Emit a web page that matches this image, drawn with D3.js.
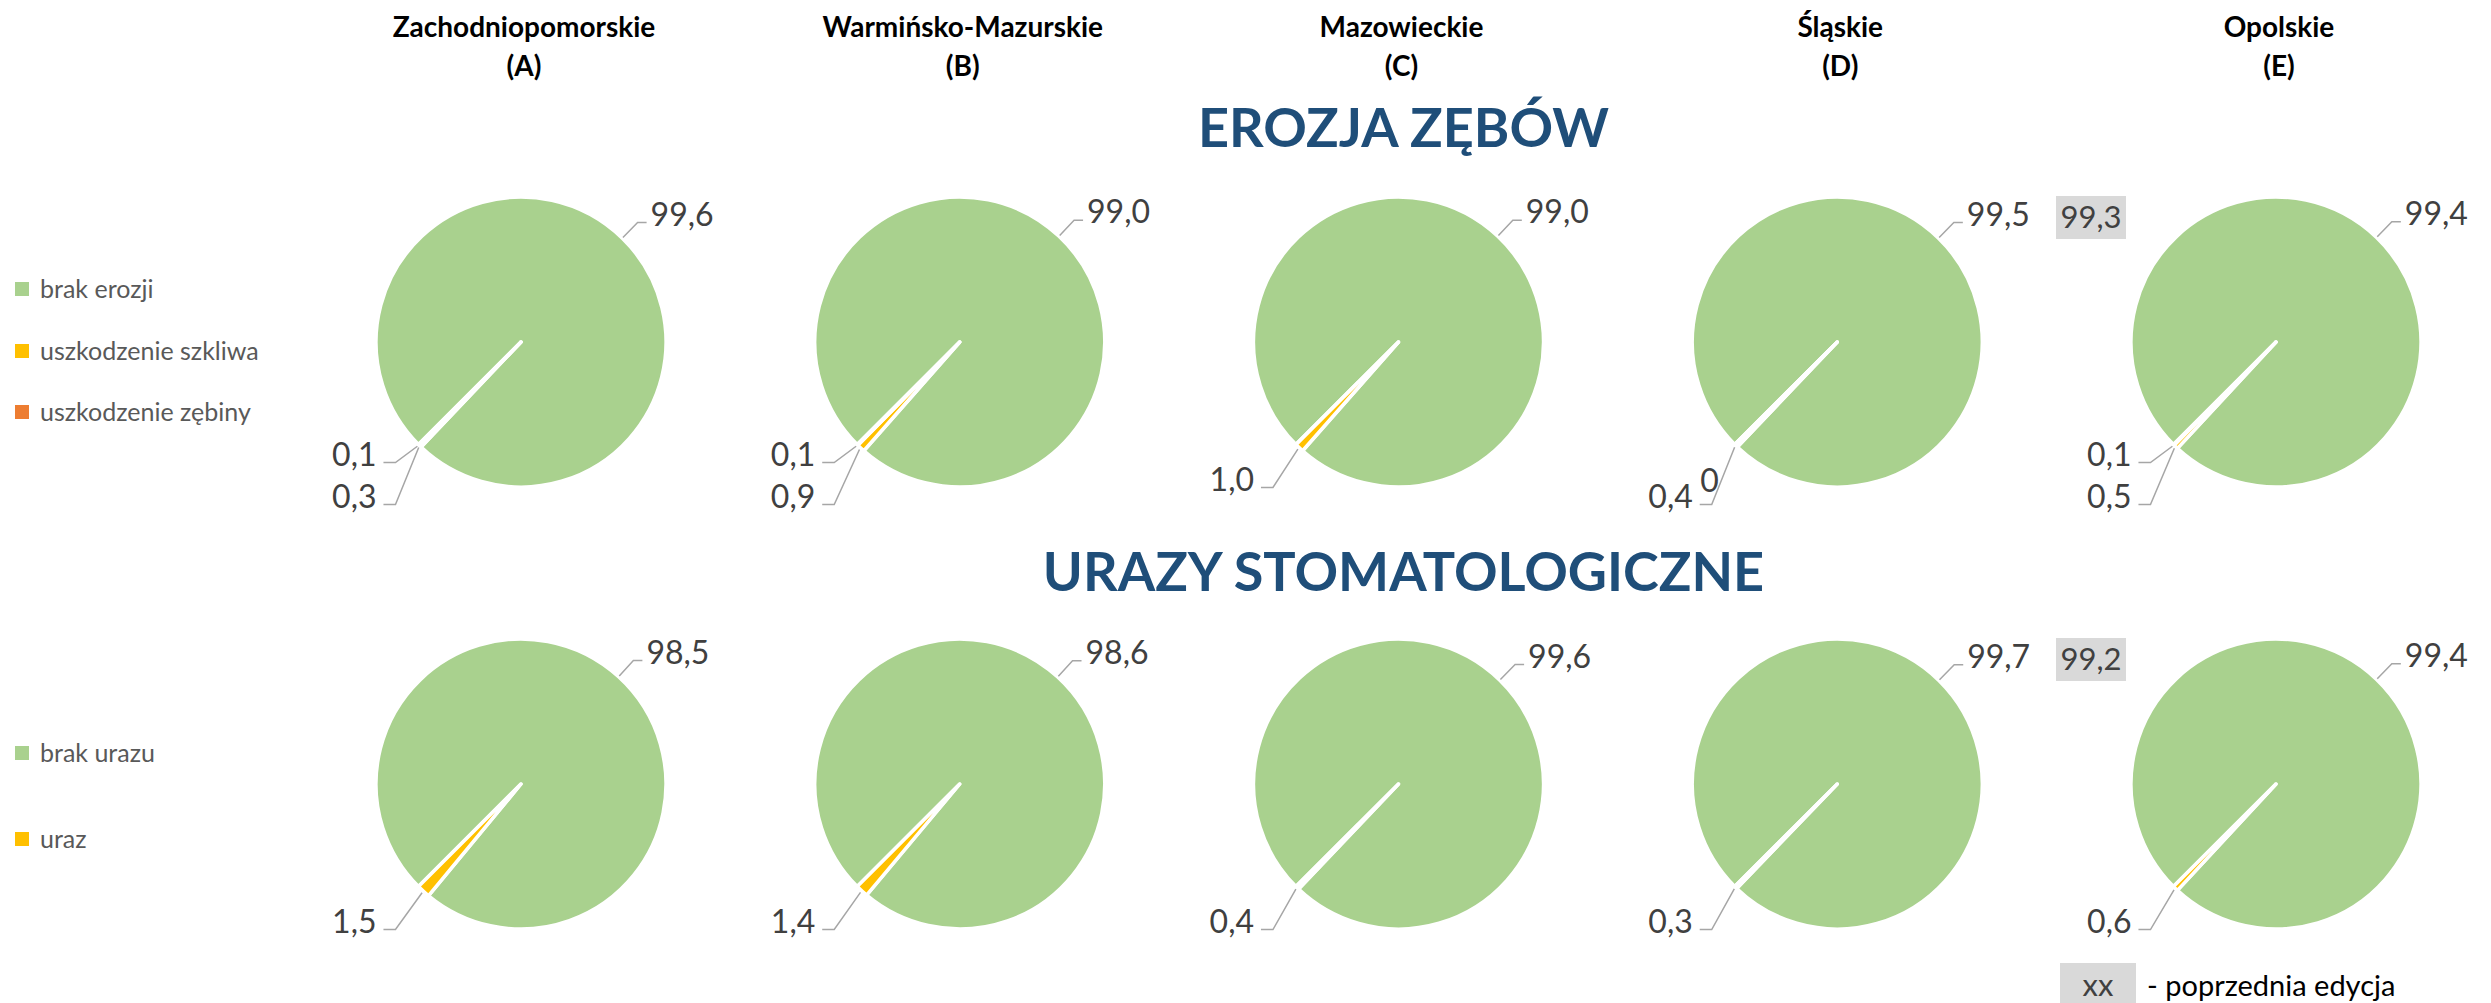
<!DOCTYPE html>
<html><head><meta charset="utf-8">
<script src="https://cdn.jsdelivr.net/npm/d3@7"></script>
<style>
html,body{margin:0;padding:0;background:#fff;}
svg{display:block;font-family:Lato,"Open Sans",sans-serif;}
</style></head><body>
<svg id="chart" width="2491" height="1003"></svg>
<script>
// ---------- data ----------
const regions = ["Zachodniopomorskie","Warmińsko-Mazurskie","Mazowieckie","Śląskie","Opolskie"];
const regionCodes = ["A","B","C","D","E"];
const sectionTitles = ["EROZJA ZĘBÓW","URAZY STOMATOLOGICZNE"];

const erosionCategories = ["brak erozji","uszkodzenie szkliwa","uszkodzenie zębiny"];
const erosionNone   = [99.6, 99.0, 99.0, 99.5, 99.4];
const erosionEnamel = [0.3, 0.9, 1.0, 0.4, 0.5];
const erosionDentin = [0.1, 0.1, null, 0, 0.1];
const erosionPrevious = [null, null, null, null, 99.3];

const traumaCategories = ["brak urazu","uraz"];
const traumaNone = [98.5, 98.6, 99.6, 99.7, 99.4];
const traumaYes  = [1.5, 1.4, 0.4, 0.3, 0.6];
const traumaPrevious = [null, null, null, null, 99.2];

const previousLegend = ["xx","- poprzednia edycja"];

// ---------- styles ----------
const sliceColors = ["#A9D18E","#FFC000","#ED7D31"];
const labelColor = "#404040";
const legendColor = "#595959";
const titleColor = "#1F4E79";
const leaderColor = "#A6A6A6";
const R = 145;

const sections = [
  {key:"erosion", categories: erosionCategories, series:[erosionNone, erosionEnamel, erosionDentin], previous: erosionPrevious, legendOffsets:[-53, 9, 70]},
  {key:"trauma", categories: traumaCategories, series:[traumaNone, traumaYes], previous: traumaPrevious, legendOffsets:[-31, 55]}
];

const svg = d3.select("#chart");
const colX = d3.scalePoint().domain(regions).range([521, 2276]);
const rowY = d3.scalePoint().domain(sections.map(s=>s.key)).range([342, 784]);
const color = d3.scaleOrdinal().domain([0,1,2]).range(sliceColors);
const fmt = v => v === 0 ? "0" : d3.format(".1f")(v).replace(".", ",");

const startA = 5*Math.PI/4;
const pie = d3.pie().sort(null).value(d => d.value == null ? 0 : d.value)
  .startAngle(startA).endAngle(startA + 2*Math.PI);
const arc = d3.arc().innerRadius(0).outerRadius(R);
const polar = (a, r) => [r*Math.sin(a), -r*Math.cos(a)];

// ---------- headers ----------
const hdr = svg.append("g").attr("font-weight",700).attr("font-size",28).attr("fill","#000").attr("text-anchor","middle");
regions.forEach((reg,i) => {
  hdr.append("text").attr("x", colX(reg)+3).attr("y", 37).text(reg);
  hdr.append("text").attr("x", colX(reg)+3).attr("y", 76).text("(" + regionCodes[i] + ")");
});

// ---------- section titles ----------
sections.forEach((sec, si) => {
  svg.append("text").attr("x", colX(regions[2]) + 5).attr("y", rowY(sec.key) - 195 + (si ? 2 : 0))
    .attr("text-anchor","middle").attr("font-weight",700).attr("font-size",54)
    .attr("fill", titleColor).text(sectionTitles[si]);
});

// ---------- legends ----------
sections.forEach(sec => {
  const cy = rowY(sec.key);
  const lg = svg.append("g");
  sec.categories.forEach((cat, ci) => {
    const y = cy + sec.legendOffsets[ci];
    lg.append("rect").attr("x",15).attr("y",y-7).attr("width",14).attr("height",14).attr("fill", color(ci));
    lg.append("text").attr("x",40).attr("y",y).attr("dy","0.35em").attr("font-size",25)
      .attr("fill", legendColor).text(cat);
  });
});

// ---------- pies ----------
sections.forEach(sec => {
  const cy = rowY(sec.key);
  regions.forEach((reg, ri) => {
    const cx = colX(reg);
    const data = sec.series.map((s, k) => ({k, value: s[ri]}));
    const slices = pie(data);
    const g = svg.append("g").attr("transform", `translate(${cx},${cy})`);
    g.selectAll("path").data(slices).join("path")
      .attr("d", arc).attr("fill", d => color(d.data.k))
      .attr("stroke","#fff").attr("stroke-width",3.5).attr("stroke-linejoin","round");

    const lab = g.append("g").attr("font-size",32).attr("fill",labelColor);
    // main slice label
    const main = slices[0];
    const am = (main.startAngle + main.endAngle)/2;
    const p0 = polar(am, R+1), p1 = polar(am, R+22);
    const p2 = [p1[0]+9, p1[1]];
    lab.append("path").attr("d", d3.line()([p0,p1,p2])).attr("fill","none")
      .attr("stroke",leaderColor).attr("stroke-width",1.5);
    lab.append("text").attr("x", p2[0]+4).attr("y", p1[1]-8).attr("dy","0.35em").text(fmt(main.data.value));

    // small slices
    const notch = polar(startA, R);
    const labeled = slices.filter((s,i) => i>0 && s.data.value != null);
    labeled.forEach((s, li) => {
      const v = s.data.value;
      if (v === 0) {
        lab.append("text").attr("x", notch[0]-16).attr("y", notch[1]+36).attr("dy","0.35em")
          .attr("text-anchor","end").text(fmt(v));
        return;
      }
      let ly;
      if (labeled.length === 1) ly = notch[1] + 35;
      else ly = notch[1] + (li === labeled.length-1 ? 10 : 52);
      const lx = notch[0] - 42;
      const am2 = (s.startAngle + s.endAngle)/2;
      const q0 = polar(am2, R+2);
      const q1 = [lx+19, ly+8], q2 = [lx+7, ly+8];
      lab.append("path").attr("d", d3.line()([q0,q1,q2])).attr("fill","none")
        .attr("stroke",leaderColor).attr("stroke-width",1.5);
      lab.append("text").attr("x", lx).attr("y", ly).attr("dy","0.35em")
        .attr("text-anchor","end").text(fmt(v));
    });

    // previous edition box
    const prev = sec.previous[ri];
    if (prev != null) {
      const bw = 70, bx = -220, by = -146;
      g.append("rect").attr("x", bx).attr("y", by).attr("width", bw).attr("height", 43).attr("fill","#D9D9D9");
      g.append("text").attr("x", bx+bw/2).attr("y", by+21.5).attr("dy","0.35em").attr("text-anchor","middle")
        .attr("font-size",31).attr("fill",labelColor).text(fmt(prev));
    }
  });
});

// ---------- previous edition legend ----------
const pl = svg.append("g");
pl.append("rect").attr("x",2060).attr("y",963).attr("width",76).attr("height",40).attr("fill","#D9D9D9");
pl.append("text").attr("x",2098).attr("y",996).attr("text-anchor","middle").attr("font-size",31).attr("fill",labelColor).text(previousLegend[0]);
pl.append("text").attr("x",2147).attr("y",996).attr("font-size",29).attr("fill","#000").text(previousLegend[1]);
</script>
</body></html>
